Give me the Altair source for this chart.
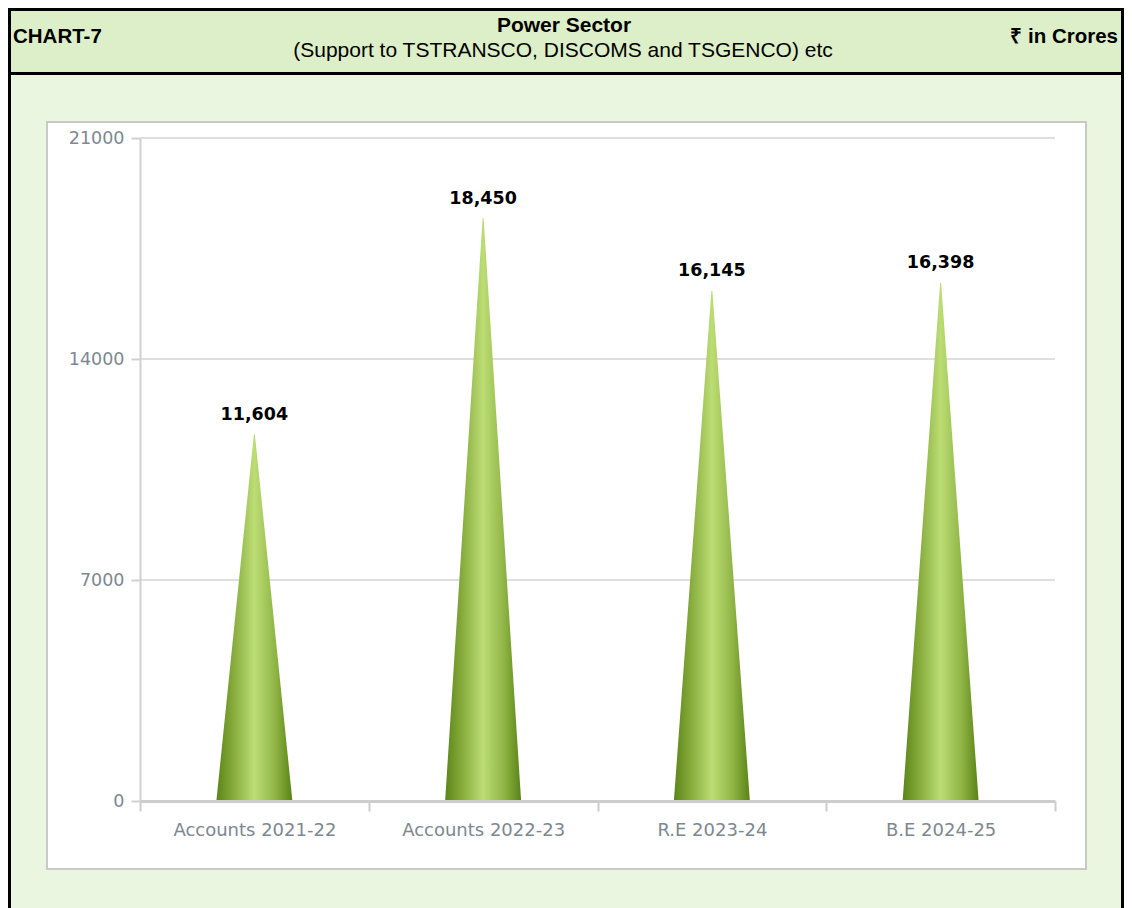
import altair as alt
import pandas as pd

# ---- data ----
categories = ["Accounts 2021-22", "Accounts 2022-23", "R.E 2023-24", "B.E 2024-25"]
values = [11604, 18450, 16145, 16398]
y_ticks = [0, 7000, 14000, 21000]

header_left = "CHART-7"
title_text = "Power Sector"
subtitle_text = "(Support to TSTRANSCO, DISCOMS and TSGENCO) etc"
unit_text = "₹ in Crores"

# ---- layout / style ----
W, H = 915, 663
BODY = "#ebf6e1"
HEAD = "#dcefc8"
GRAY = "#d0d0d0"
LABEL = "#7d8890"

bar_df = pd.DataFrame({"cat": categories, "v": values})
cone_df = pd.DataFrame({
    "cat": categories + categories,
    "v": [0] * len(values) + values,
    "tip": [0] * len(values) + [1] * len(values),
})
grid_df = pd.DataFrame({"g": y_ticks})
one = pd.DataFrame({"k": [0]})

xscale = alt.Scale(type="band", domain=categories, paddingInner=0, paddingOuter=0)
yscale = alt.Scale(domain=[0, 21000], nice=False, zero=True)

xaxis = alt.Axis(title=None, tickBand="extent", grid=False, domainColor="#cdcdcd",
                 domainWidth=3, tickColor="#cdcdcd", tickWidth=2, tickSize=10,
                 labelColor=LABEL, labelFont="DejaVu Sans", labelFontSize=18,
                 labelPadding=10, labelAngle=0, zindex=1)
yaxis = alt.Axis(title=None, values=y_ticks, format="d", grid=False, domainColor=GRAY,
                 domainWidth=2, tickColor=GRAY, tickWidth=2, tickSize=9,
                 labelColor=LABEL, labelFont="DejaVu Sans", labelFontSize=17.5,
                 labelPadding=7, zindex=1)


def rect(x, x2, y, y2, fill, **kw):
    return alt.Chart(one).mark_rect(fill=fill, **kw).encode(
        x=alt.value(x), x2=alt.value(x2), y=alt.value(y), y2=alt.value(y2))


def label(txt, x, y, align, size, weight):
    return alt.Chart(one).mark_text(
        text=txt, align=align, baseline="middle", font="Liberation Sans",
        fontSize=size, fontWeight=weight, color="black").encode(
        x=alt.value(x), y=alt.value(y))


body = rect(-132, 984, -130, 780, BODY, strokeWidth=0)
head = rect(-132, 984, -130, -64, HEAD, strokeWidth=0)
b_left = rect(-132, -129, -130, 780, "black", strokeWidth=0)
b_right = rect(981, 984, -130, 780, "black", strokeWidth=0)
b_top = rect(-132, 984, -130, -127, "black", strokeWidth=0)
b_sep = rect(-132, 984, -66, -63, "black", strokeWidth=0)
white_box = rect(-93, 946, -16, 731, "white", stroke="#c9c9c9", strokeWidth=2)

grid = alt.Chart(grid_df).mark_rule(color="#d4d4d4", strokeWidth=1.5).encode(
    y=alt.Y("g:Q", scale=yscale, axis=yaxis),
    x=alt.value(0), x2=alt.value(W))

grad = alt.LinearGradient(
    gradient="linear", x1=0, x2=1, y1=0, y2=0,
    stops=[alt.GradientStop(color="#5c8417", offset=0),
           alt.GradientStop(color="#86ab3c", offset=0.22),
           alt.GradientStop(color="#bcdd74", offset=0.5),
           alt.GradientStop(color="#8fb445", offset=0.78),
           alt.GradientStop(color="#5a8216", offset=1)])

cones = alt.Chart(cone_df).mark_trail(clip=True, fill=grad, color=grad, opacity=1).encode(
    x=alt.X("cat:N", scale=xscale, axis=xaxis),
    y=alt.Y("v:Q", scale=yscale, axis=yaxis),
    size=alt.Size("tip:Q", scale=alt.Scale(domain=[0, 1], range=[76, 0]), legend=None),
    detail="cat:N",
    order=alt.Order("tip:Q"),
)

values_text = alt.Chart(bar_df).mark_text(
    font="DejaVu Sans", fontSize=17.5, fontWeight="bold", color="black",
    baseline="alphabetic", dy=-15).encode(
    x=alt.X("cat:N", scale=xscale, axis=xaxis),
    y=alt.Y("v:Q", scale=yscale, axis=yaxis),
    text=alt.Text("v:Q", format=","),
)

t_left = label(header_left, -127, -101, "left", 20.5, "bold")
t_title = label(title_text, 424, -112, "center", 21, "bold")
t_sub = label(subtitle_text, 423, -87, "center", 21, "normal")
t_unit = label(unit_text, 978, -101, "right", 20.5, "bold")

chart = alt.layer(
    body, head, b_left, b_right, b_top, b_sep, white_box,
    grid, cones, values_text, t_left, t_title, t_sub, t_unit,
).properties(width=W, height=H, padding=0).configure_view(stroke=None)

chart.save("out.html", embed_options={"renderer": "svg", "actions": False})
